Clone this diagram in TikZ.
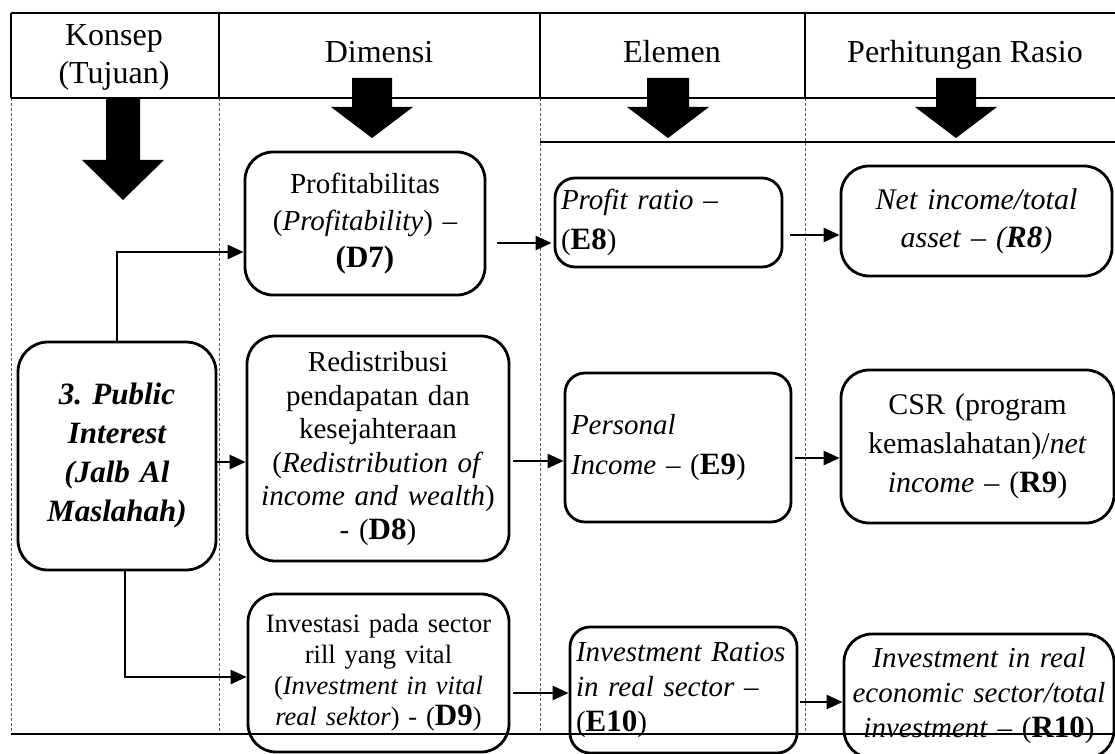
\documentclass[tikz,border=0pt]{standalone}
\usepackage{fontspec}
\setmainfont{Liberation Serif}
\usetikzlibrary{positioning,arrows.meta}
\frenchspacing

\newcommand{\kode}[1]{{\fontsize{31}{31}\selectfont\textbf{#1}}}
\newcommand{\blockarrow}[6]{%
  \fill (#1-#5,#2) -- (#1+#5,#2) -- (#1+#5,#3) -- (#1+#6,#3) -- (#1,#4) -- (#1-#6,#3) -- (#1-#5,#3) -- cycle;}

\tikzset{
  box/.style={draw, line width=2.8pt, rounded corners=28pt, fill=white, align=center, inner sep=6pt},
  lbox/.style={box, align=left, rounded corners=20pt},
  head/.style={font=\fontsize{32}{38}\selectfont},
  flow/.style={line width=2.6pt, -{Triangle[length=16pt,width=14pt]}},
  tline/.style={line width=2.2pt},
  cline/.style={densely dashed, line width=1pt, gray!70!black},
}

\begin{document}
\begin{tikzpicture}[x=1pt,y=-1pt]
\useasboundingbox (0,0) rectangle (1115,754);

\foreach \cx in {11,219,540,805} {
  \draw[cline] (\cx,98) -- (\cx,734);
  \draw[tline] (\cx,13) -- (\cx,98);
}
\draw[tline] (11,13) -- (1115,13);
\draw[tline] (11,98) -- (1115,98);
\draw[tline] (540,142) -- (1115,142);

\node[head, align=center] (konsep) at (114,57) {Konsep\\(Tujuan)};
\node[head, anchor=base] (dimensi) at (379,63) {Dimensi};
\node[head, anchor=base] (elemen) at (672,63) {Elemen};
\node[head, anchor=base] (rasio) at (965,63) {Perhitungan Rasio};

\blockarrow{123}{98}{160}{200}{17}{41}
\blockarrow{372}{78}{107}{138}{20}{41}
\blockarrow{668}{78}{107}{138}{21}{41}
\blockarrow{956}{78}{107}{138}{20}{41}

\node[box, minimum width=198, minimum height=228, text width=186, rounded corners=30pt,
  font=\fontsize{31}{39}\selectfont\bfseries\itshape] (p) at (117,456)
  {3. Public\\Interest\\(Jalb Al\\Maslahah)};

\node[box, minimum width=240, minimum height=143, text width=228,
  font=\fontsize{29}{37}\selectfont] (d7) at (365,223.5)
  {Profitabilitas\\(\textit{Profitability}) –\\\kode{(D7)}};
\node[box, minimum width=262, minimum height=225, text width=250,
  font=\fontsize{29}{33.5}\selectfont] (d8) at (378,448.5)
  {Redistribusi\\pendapatan dan\\kesejahteraan\\(\textit{Redistribution of}\\\textit{income and wealth})\\- (\kode{D8})};
\node[box, minimum width=261, minimum height=158, text width=249,
  font=\fontsize{26.5}{31}\selectfont] (d9) at (378.5,673)
  {Investasi pada sector\\rill yang vital\\(\textit{Investment in vital}\\\textit{real sektor}) - (\kode{D9})};

\node[lbox, minimum width=227, minimum height=89, text width=215,
  font=\fontsize{29}{40}\selectfont] (e8) at (668.5,222.5)
  {\textit{Profit ratio} –\\(\kode{E8})};
\node[lbox, minimum width=226, minimum height=149, text width=214,
  font=\fontsize{29}{40}\selectfont] (e9) at (678,447.5)
  {\textit{Personal}\\\textit{Income} – (\kode{E9})};
\node[lbox, minimum width=227, minimum height=126, text width=215,
  font=\fontsize{29}{35}\selectfont] (e10) at (683.5,690)
  {\textit{Investment Ratios}\\\textit{in real sector} –\\(\kode{E10})};

\node[box, minimum width=271, minimum height=110, text width=259,
  font=\fontsize{30}{38}\selectfont] (r8) at (976.5,221)
  {\textit{Net income/total}\\\textit{asset} – \textit{(\kode{R8})}};
\node[box, minimum width=273, minimum height=153, text width=261,
  font=\fontsize{30}{39}\selectfont] (r9) at (977.5,446.5)
  {CSR (program\\kemaslahatan)/\textit{net}\\\textit{income} – (\kode{R9})};
\node[box, minimum width=270, minimum height=124, text width=258,
  font=\fontsize{29}{35}\selectfont] (r10) at (979,696)
  {\textit{Investment in real}\\\textit{economic sector/total}\\\textit{investment} – (\kode{R10})};

\draw[flow] (p.north) |- (d7.west |- 0,252);
\draw[flow] (p.east |- 0,462) -- (d8.west |- 0,462);
\draw[flow] ([xshift=8pt]p.south) |- (d9.west |- 0,677);
\draw[flow, shorten <=11pt, shorten >=2pt] (d7.east |- 0,243) -- (e8.west |- 0,243);
\draw[flow, shorten <=7pt] (e8.east |- 0,235) -- (r8.west |- 0,235);
\draw[flow, shorten <=3pt] (d8.east |- 0,461) -- (e9.west |- 0,461);
\draw[flow, shorten <=3pt] (e9.east |- 0,458) -- (r9.west |- 0,458);
\draw[flow, shorten <=3pt] (d9.east |- 0,693) -- (e10.west |- 0,693);
\draw[flow, shorten <=2pt] (e10.east |- 0,702) -- (r10.west |- 0,702);

\draw[tline] (11,734) -- (1115,734);
\end{tikzpicture}
\end{document}
